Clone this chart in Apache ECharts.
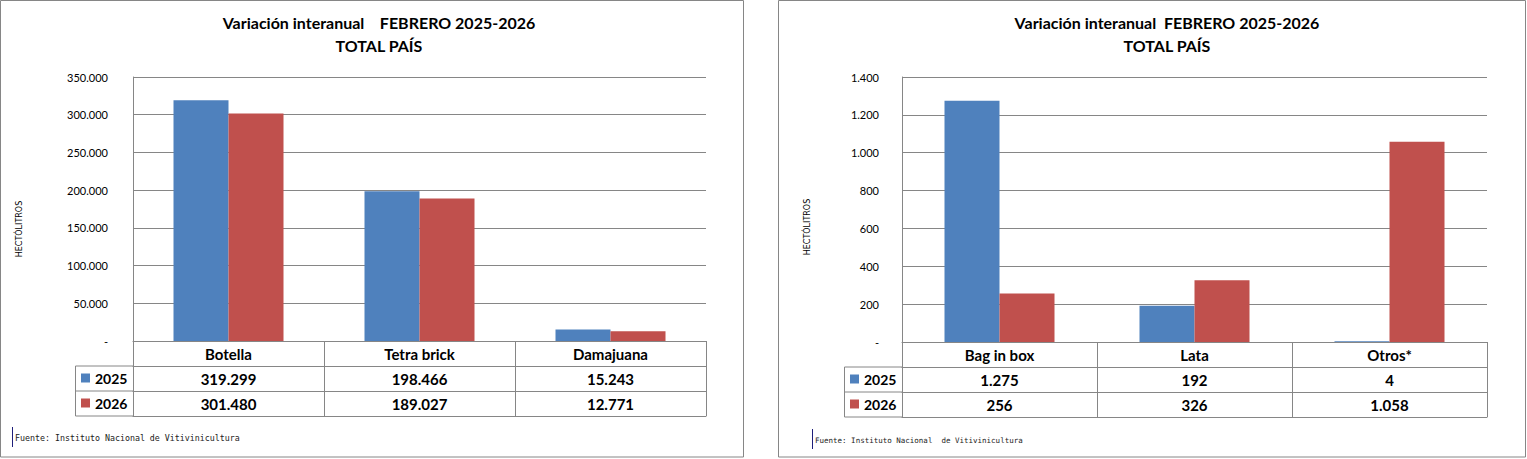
<!DOCTYPE html>
<html>
<head>
<meta charset="utf-8">
<script src="https://cdn.jsdelivr.net/npm/echarts@6/dist/echarts.min.js"></script>
</head>
<body style="margin: 0; background: #fff">
<div id="container" style="width: 1527px; height: 459px"></div>
<script type="text/javascript">
// datos: hectolitros por tipo de envase, febrero 2025 vs 2026
var anios = ['2025', '2026'];
var envasesA = ['Botella', 'Tetra brick', 'Damajuana'];
var v2025A = [319299, 198466, 15243];
var v2026A = [301480, 189027, 12771];
var envasesB = ['Bag in box', 'Lata', 'Otros*'];
var v2025B = [1275, 192, 4];
var v2026B = [256, 326, 1058];
var ejeA = { max: 350000, paso: 50000 };
var ejeB = { max: 1400, paso: 200 };

var GRIS = '#868686';
var AZUL = '#4f81bd';
var ROJO = '#c0504d';
var FUENTE = 'Lato, "Noto Sans", sans-serif';
var FILA = 25;      // alto de fila de la tabla
var COLLEY = 58;    // ancho de la columna de leyenda

var gA = { left: 133, top: 77, width: 573, height: 264 };
var gB = { left: 902, top: 77, width: 585, height: 265 };

function miles(n) {
    if (n === 0) return '-';
    return String(n).replace(/\B(?=(\d{3})+(?!\d))/g, '.');
}

// ejes x de la tabla de datos: encabezado, fila 2025, fila 2026, borde inferior
function ejesTabla(grid, cats, fila1, fila2) {
    var textos = [
        function (v) { return v; },
        function (v, i) { return miles(fila1[i]); },
        function (v, i) { return miles(fila2[i]); }
    ];
    var ejes = [];
    for (var k = 0; k < 4; k++) {
        ejes.push({
            type: 'category',
            gridIndex: grid,
            position: 'bottom',
            offset: k * FILA,
            data: cats,
            axisLine: { show: true, onZero: false, lineStyle: { color: GRIS, width: 1 } },
            axisTick: { show: k < 3, length: FILA, interval: 0, lineStyle: { color: GRIS, width: 1 } },
            axisLabel: {
                show: k < 3,
                interval: 0,
                margin: 12.5,
                verticalAlign: 'middle',
                color: '#000',
                fontSize: 15,
                fontWeight: 'bold',
                fontFamily: FUENTE,
                formatter: textos[k]
            },
            splitLine: { show: false }
        });
    }
    return ejes;
}

function ejeY(grid, cfg, margen) {
    return {
        type: 'value',
        gridIndex: grid,
        min: 0,
        max: cfg.max,
        interval: cfg.paso,
        axisLine: { show: true, lineStyle: { color: GRIS, width: 1 } },
        axisTick: { show: false },
        axisLabel: { color: '#000', fontSize: 11, fontFamily: FUENTE, margin: margen, formatter: miles },
        splitLine: { show: true, lineStyle: { color: GRIS, width: 1 } }
    };
}

function barras(nombre, eje, datos, color) {
    return {
        name: nombre,
        type: 'bar',
        xAxisIndex: eje,
        yAxisIndex: eje === 0 ? 0 : 1,
        data: datos,
        barWidth: 55,
        barGap: '0%',
        itemStyle: { color: color },
        animation: false
    };
}

// caja de la columna de leyenda a la izquierda de la tabla
function cajaLeyenda(g) {
    var x0 = g.left - COLLEY, x1 = g.left, y0 = g.top + g.height + FILA;
    var estilo = { stroke: GRIS, lineWidth: 1 };
    return [
        { type: 'polyline', silent: true, shape: { points: [[x1, y0], [x0 + 0.5, y0], [x0 + 0.5, y0 + 2 * FILA], [x1, y0 + 2 * FILA]] }, style: estilo },
        { type: 'line', silent: true, shape: { x1: x0, y1: y0 + FILA, x2: x1, y2: y0 + FILA }, style: estilo }
    ];
}

function leyenda(g) {
    return {
        data: anios,
        orient: 'vertical',
        left: g.left - COLLEY + 6,
        top: g.top + g.height + FILA + 4,
        padding: 0,
        icon: 'rect',
        itemWidth: 9,
        itemHeight: 9,
        itemGap: FILA - 16,
        selectedMode: false,
        textStyle: { color: '#000', fontSize: 14, fontWeight: 'bold', fontFamily: FUENTE, lineHeight: 16 }
    };
}

function titulo(x, texto) {
    return {
        text: texto,
        left: x,
        top: 11,
        padding: 0,
        textAlign: 'center',
        textStyle: { color: '#000', fontSize: 16, fontWeight: 'bold', fontFamily: FUENTE, lineHeight: 23 }
    };
}

function unidad(x, y) {
    return {
        type: 'text', silent: true, x: x, y: y, rotation: Math.PI / 2,
        style: { text: 'HECTÓLITROS', fill: '#000', fontSize: 8, fontFamily: '"DejaVu Sans", sans-serif', align: 'center', verticalAlign: 'middle' }
    };
}

function fuente(x, y, tam, texto) {
    return [
        { type: 'line', silent: true, shape: { x1: x - 2.5, y1: y - 11, x2: x - 2.5, y2: y + 9 }, style: { stroke: '#1f1f7a', lineWidth: 1 } },
        { type: 'text', silent: true, x: x, y: y, style: { text: texto, fill: '#222', fontSize: tam, fontFamily: '"DejaVu Sans Mono", monospace', verticalAlign: 'middle' } }
    ];
}

var dom = document.getElementById('container');
var myChart = echarts.init(dom, null, { renderer: 'svg' });

var graficos = [
    { type: 'rect', silent: true, shape: { x: 0.5, y: 0.5, width: 743, height: 456.5 }, style: { fill: 'none', stroke: GRIS, lineWidth: 1 } },
    { type: 'rect', silent: true, shape: { x: 778.5, y: 0.5, width: 747, height: 456.5 }, style: { fill: 'none', stroke: GRIS, lineWidth: 1 } },
    unidad(19, 229),
    unidad(807, 227)
].concat(
    cajaLeyenda(gA), cajaLeyenda(gB),
    fuente(15, 438, 8.3, 'Fuente: Instituto Nacional de Vitivinicultura'),
    fuente(815, 440, 7.5, 'Fuente: Instituto Nacional  de Vitivinicultura')
);

var option = {
    backgroundColor: '#fff',
    animation: false,
    title: [
        titulo(379, 'Variación interanual    FEBRERO 2025-2026\nTOTAL PAÍS'),
        titulo(1167, 'Variación interanual  FEBRERO 2025-2026\nTOTAL PAÍS')
    ],
    legend: [leyenda(gA), leyenda(gB)],
    grid: [gA, gB],
    xAxis: ejesTabla(0, envasesA, v2025A, v2026A).concat(ejesTabla(1, envasesB, v2025B, v2026B)),
    yAxis: [ejeY(0, ejeA, 25), ejeY(1, ejeB, 23)],
    series: [
        barras('2025', 0, v2025A, AZUL),
        barras('2026', 0, v2026A, ROJO),
        barras('2025', 4, v2025B, AZUL),
        barras('2026', 4, v2026B, ROJO)
    ],
    graphic: graficos
};

myChart.setOption(option);
</script>
</body>
</html>
